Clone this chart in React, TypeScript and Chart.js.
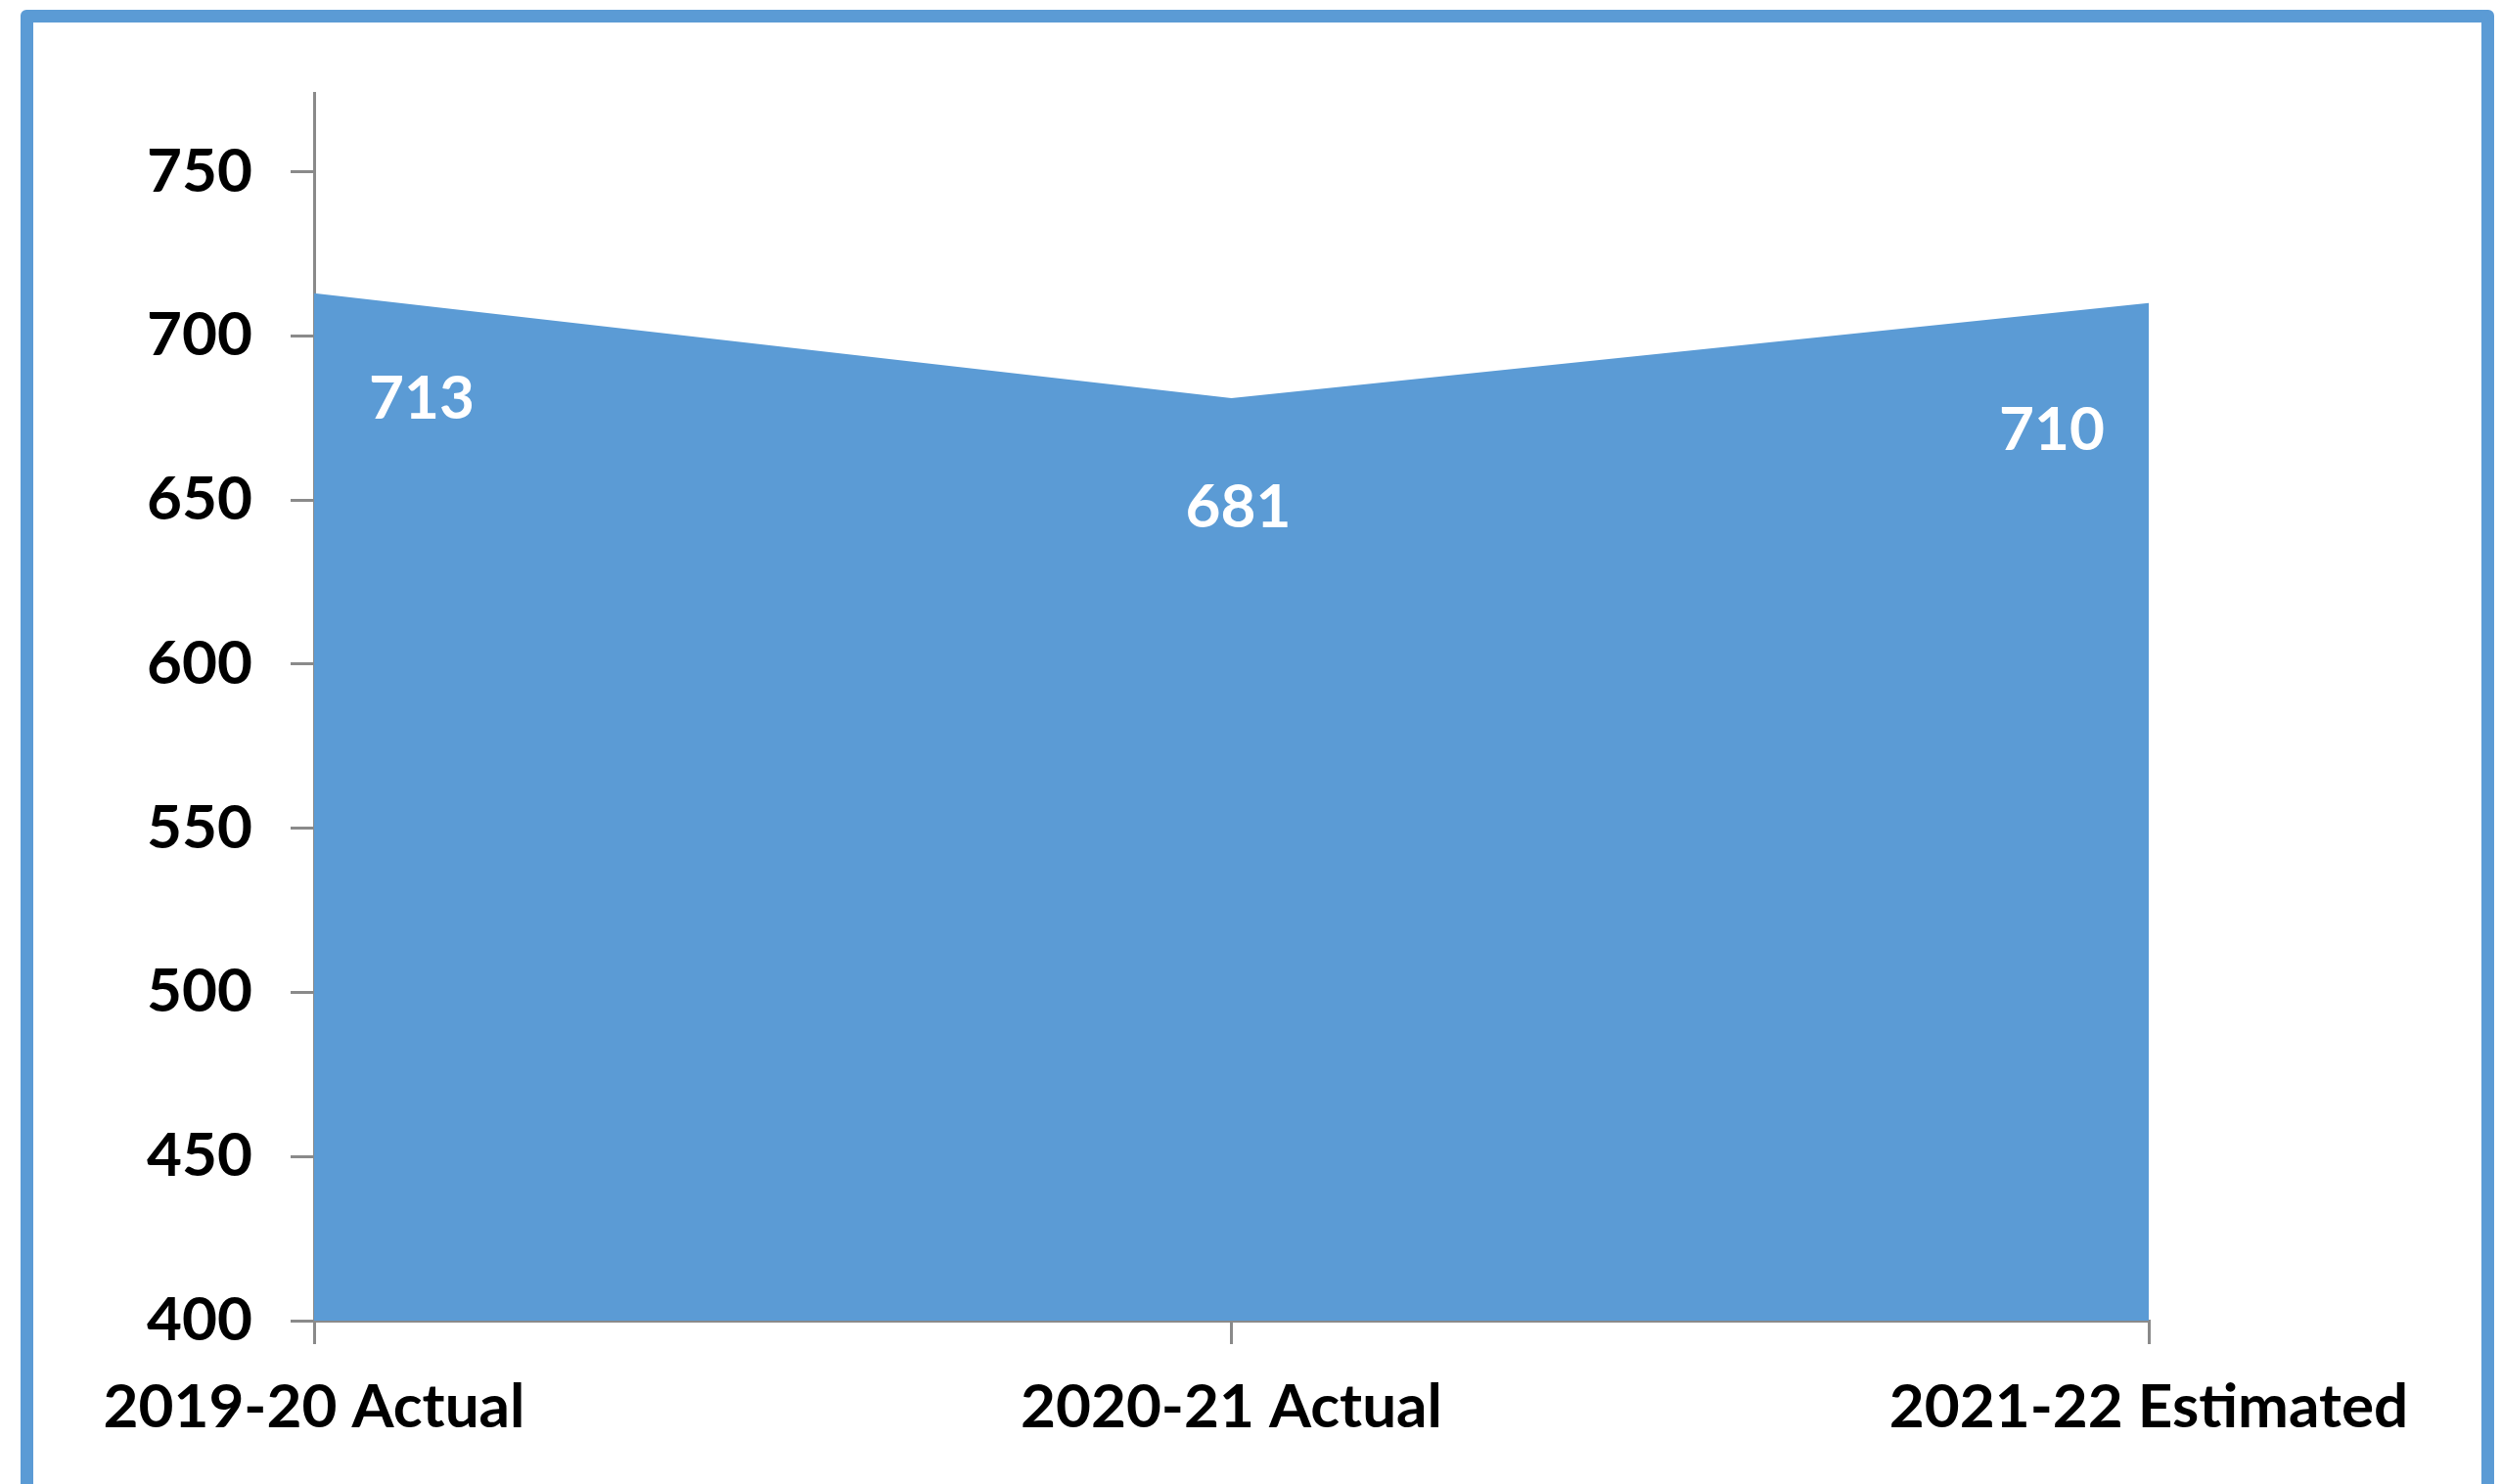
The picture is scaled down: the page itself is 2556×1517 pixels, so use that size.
import React, { useEffect, useRef } from "react";
import { Chart, registerables } from "chart.js";

Chart.register(...registerables);

// Headcount by year
const categories = ["2019-20 Actual", "2020-21 Actual", "2021-22 Estimated"];
const headcount = [713, 681, 710];
const yTickValues = [400, 450, 500, 550, 600, 650, 700, 750];
const yMin = 400;
const yMax = 774;

const FONT_FAMILY = "Lato, 'Open Sans', sans-serif";
const BLUE = "#5B9BD5";
const AXIS_GREY = "#8a8a8a";

// White value labels drawn inside the filled area
const valueLabels = {
  id: "valueLabels",
  afterDatasetsDraw(chart: any) {
    const offsets = [
      [110, 106],
      [7, 110],
      [-99, 128],
    ];
    const ctx = chart.ctx;
    const meta = chart.getDatasetMeta(0);
    const data = chart.data.datasets[0].data;
    ctx.save();
    ctx.font = `bold 62px ${FONT_FAMILY}`;
    ctx.fillStyle = "#ffffff";
    ctx.textAlign = "center";
    ctx.textBaseline = "alphabetic";
    meta.data.forEach((pt: any, i: number) => {
      const [dx, dy] = offsets[i];
      ctx.fillText(String(data[i]), pt.x + dx, pt.y + dy + 22);
    });
    ctx.restore();
  },
};

export default function App() {
  const canvasRef = useRef<HTMLCanvasElement | null>(null);

  useEffect(() => {
    if (!canvasRef.current) return;
    const chart = new Chart(canvasRef.current, {
      type: "line",
      data: {
        labels: categories,
        datasets: [
          {
            data: headcount,
            fill: "start",
            backgroundColor: BLUE,
            borderWidth: 0,
            pointRadius: 0,
            tension: 0,
          },
        ],
      },
      options: {
        animation: false,
        responsive: false,
        maintainAspectRatio: false,
        events: [],
        layout: { padding: { top: 95, right: 360, left: 0, bottom: 0 } },
        plugins: {
          legend: { display: false },
          tooltip: { enabled: false },
          title: { display: false },
        },
        scales: {
          x: {
            type: "category",
            offset: false,
            z: 1,
            border: { display: true, color: AXIS_GREY, width: 3 },
            grid: {
              offset: false,
              drawOnChartArea: false,
              drawTicks: true,
              tickLength: 24,
              color: AXIS_GREY,
              lineWidth: 3,
            },
            ticks: {
              color: "#000000",
              padding: 28,
              maxRotation: 0,
              autoSkip: false,
              font: { family: FONT_FAMILY, size: 62, weight: "bold" },
            },
            afterFit(scale: any) {
              scale.height = 167;
            },
          },
          y: {
            min: yMin,
            max: yMax,
            z: 1,
            border: { display: true, color: AXIS_GREY, width: 3 },
            grid: {
              drawOnChartArea: false,
              drawTicks: true,
              tickLength: 24,
              color: AXIS_GREY,
              lineWidth: 3,
            },
            ticks: {
              color: "#000000",
              padding: 39,
              font: { family: FONT_FAMILY, size: 62, weight: "bold" },
            },
            afterBuildTicks(scale: any) {
              scale.ticks = yTickValues.map((v) => ({ value: v }));
            },
            afterFit(scale: any) {
              scale.width = 321;
            },
          },
        },
      },
      plugins: [valueLabels],
    });
    return () => chart.destroy();
  }, []);

  return (
    <div
      style={{
        position: "fixed",
        left: 0,
        top: 0,
        width: 2556,
        height: 1517,
        overflow: "hidden",
        background: "#ffffff",
      }}
    >
      <div
        style={{
          position: "absolute",
          left: 21,
          top: 10,
          width: 2528,
          height: 1560,
          boxSizing: "border-box",
          border: `13px solid ${BLUE}`,
          borderRadius: 6,
        }}
      />
      <canvas
        ref={canvasRef}
        width={2556}
        height={1517}
        style={{ position: "absolute", left: 0, top: 0, width: 2556, height: 1517 }}
      />
    </div>
  );
}
